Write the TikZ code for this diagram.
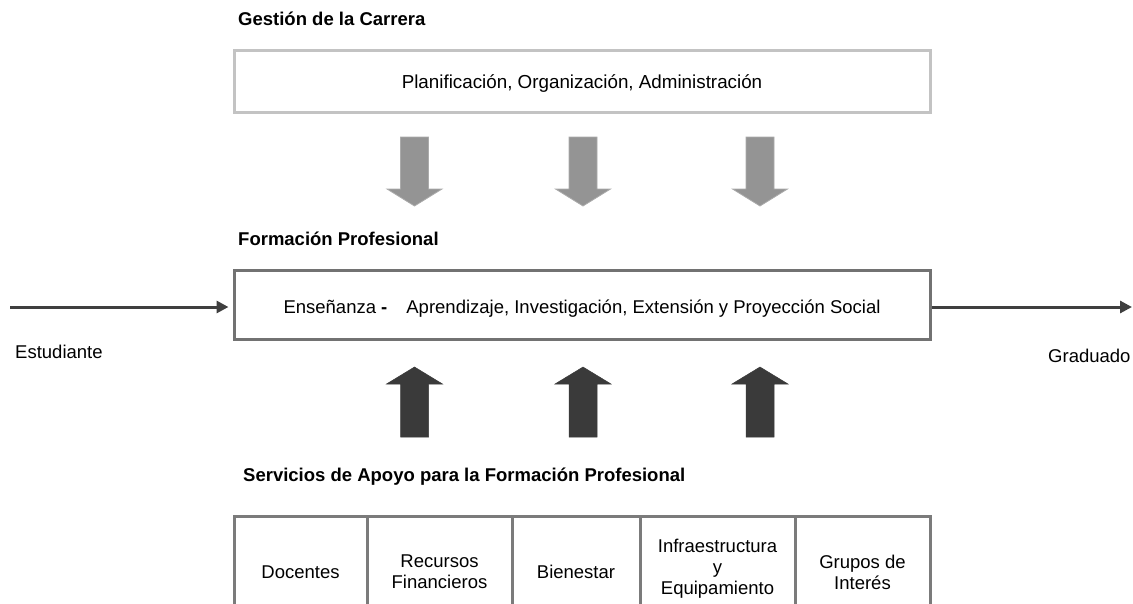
\documentclass[tikz,border=0pt]{standalone}
\usepackage{fontspec}
\setmainfont{Liberation Sans}
\usetikzlibrary{arrows.meta}
\definecolor{topgray}{HTML}{C3C3C3}
\definecolor{midgray}{HTML}{727272}
\definecolor{downfill}{HTML}{949494}
\definecolor{downedge}{HTML}{ABABAB}
\definecolor{upfill}{HTML}{3A3A3A}
\definecolor{linegray}{HTML}{3F3F3F}
\definecolor{tablegray}{HTML}{7B7B7B}
\begin{document}
\begin{tikzpicture}[x=1pt,y=-1pt,
  font=\fontsize{18.5}{21}\selectfont,
  heading/.style={anchor=base west, inner sep=0, font=\fontsize{18.5}{21}\selectfont\bfseries},
  plainlabel/.style={anchor=base west, inner sep=0},
  bigbox/.style={line width=3, minimum width=696, inner sep=0},
  cell/.style={align=center, inner sep=0, font=\fontsize{18.5}{21}\selectfont},
  downarrow/.style={fill=downfill, draw=downedge, line width=0.8, line join=miter},
  uparrow/.style={fill=upfill, draw=upfill, line width=0.5, line join=miter},
  flow/.style={draw=linegray, line width=3, -{Triangle[length=12,width=12]}},
  tableline/.style={draw=tablegray, line width=3, line join=miter}]
\useasboundingbox (0,0) rectangle (1133,603);

% headings
\node[heading] (h1) at (238,25) {Gestión de la Carrera};
\node[heading] (h2) at (238,245) {Formación Profesional};
\node[heading] (h3) at (243,481) {Servicios de Apoyo para la Formación Profesional};

% top box
\node[bigbox, draw=topgray, minimum height=62, text height=14, text depth=0,
      font=\fontsize{18.8}{21}\selectfont] (gest) at (582,81)
  {Planificación, Organización, Administración};

% middle box
\node[bigbox, draw=midgray, minimum height=69, text height=18, text depth=0] (form) at (582,304.5)
  {Enseñanza \textbf{-}\hspace{19pt}Aprendizaje, Investigación, Extensión y Proyección Social};

% side flow
\coordinate (start) at (10,307);
\coordinate (finish) at (1132,307);
\draw[flow, shorten >=4] (start) -- (start -| form.west);
\draw[flow] (finish -| form.east) -- (finish);
\node[plainlabel] (est) at (15,358) {Estudiante};
\node[plainlabel] (grad) at (1048,362) {Graduado};

% block arrows
\foreach \cx in {414.5,583,760} {
  \path[downarrow] (\cx-14,137) -- (\cx+14,137) -- (\cx+14,189) -- (\cx+27.5,189)
    -- (\cx,206) -- (\cx-27.5,189) -- (\cx-14,189) -- cycle;
  \path[uparrow] (\cx,367) -- (\cx+28,384) -- (\cx+14,384) -- (\cx+14,437)
    -- (\cx-14,437) -- (\cx-14,384) -- (\cx-28,384) -- cycle;
}

% table
\path[tableline] (234,606) -- (234,516) -- (930,516) -- (930,606);
\foreach \xx in {367,512,640,795} {
  \path[tableline] (\xx,516) -- (\xx,606);
}
\node[cell] (c1) at (300.5,572) {Docentes};
\node[cell] (c2) at (439.5,572) {Recursos\\Financieros};
\node[cell] (c3) at (576,572) {Bienestar};
\node[cell] (c4) at (717.5,569) {Infraestructura\\y\\Equipamiento};
\node[cell] (c5) at (862.5,572) {Grupos de\\Interés};
\end{tikzpicture}
\end{document}
